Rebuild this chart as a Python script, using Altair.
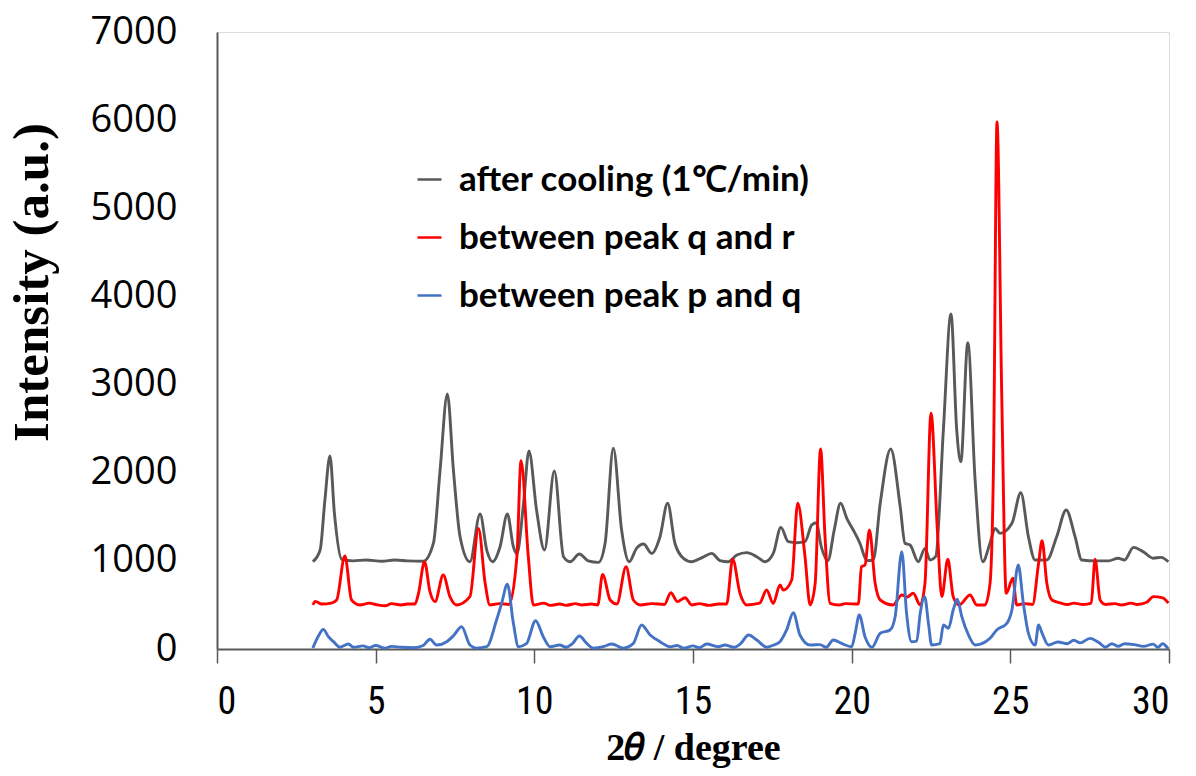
import altair as alt
import pandas as pd

# ---- data ----
series_names = ["after cooling (1\u2103/min)", "between peak q and r", "between peak p and q"]
series_colors = ["#595959", "#FF0000", "#4472C4"]

gray_x = [3.02, 3.25, 3.40, 3.56, 3.70, 3.93, 4.3, 4.7, 5.2, 5.6, 6.0, 6.5, 6.82, 7.03, 7.26, 7.45,
          7.66, 7.97, 8.29, 8.5, 8.69, 8.92, 9.15, 9.34, 9.45, 9.66, 9.83, 10.07, 10.32, 10.63, 10.92,
          11.13, 11.42, 11.7, 12.02, 12.23, 12.49, 12.75, 12.99, 13.22, 13.44, 13.7, 13.96, 14.2,
          14.43, 14.7, 14.96, 15.3, 15.59, 15.85, 16.11, 16.38, 16.69, 17.01, 17.27, 17.53, 17.77,
          18.0, 18.27, 18.53, 18.74, 18.88, 19.05, 19.25, 19.45, 19.65, 19.85, 20.05, 20.26, 20.48,
          20.68, 20.9, 21.23, 21.53, 21.68, 21.84, 22.1, 22.31, 22.47, 22.65, 22.89, 23.13, 23.31,
          23.44, 23.66, 23.89, 24.13, 24.36, 24.52, 24.68, 25.05, 25.33, 25.57, 25.78, 26.15, 26.46,
          26.76, 27.04, 27.25, 27.7, 28.1, 28.4, 28.6, 28.88, 29.2, 29.5, 29.75, 29.98]
gray_y = [990, 1123, 1690, 2190, 1540, 1018, 1000, 1010, 995, 1010, 1000, 995, 1200, 2030, 2893, 2030,
          1274, 990, 1532, 1123, 990, 1160, 1532, 1160, 1080, 1653, 2246, 1577, 1123, 2019, 1047,
          990, 1078, 1000, 983, 1200, 2277, 1350, 990, 1142, 1191, 1085, 1274, 1653,
          1200, 1029, 990, 1040, 1085, 1003, 990, 1066, 1093, 1047, 990, 1085, 1380,
          1218, 1206, 1218, 1407, 1433, 1150, 1003, 1350, 1653, 1480, 1350, 1200, 1003,
          1010, 1653, 2269, 1614, 1200, 1180, 990, 1142, 1010, 1050, 2485, 3800, 2485,
          2125, 3475, 1917, 990, 1200, 1369, 1312, 1426, 1773, 1274, 1010, 1010, 1274,
          1577, 1274, 1010, 1000, 1000, 1030, 1010, 1153, 1100, 1030, 1040, 990]

red_x = [3.02, 3.1, 3.3, 3.6, 3.77, 4.03, 4.24, 4.5, 4.8, 5.0, 5.3, 5.5, 5.8, 6.0, 6.24, 6.35, 6.54,
         6.71, 6.87, 7.13, 7.34, 7.55, 7.97, 8.24, 8.45, 8.6, 8.9, 9.2, 9.45, 9.58, 9.81, 9.97, 10.3,
         10.5, 10.8, 11.0, 11.3, 11.5, 11.8, 12.0, 12.15, 12.39, 12.6, 12.89, 13.12, 13.35, 13.7,
         14.1, 14.3, 14.51, 14.75, 14.96, 15.2, 15.5, 15.8, 16.06, 16.25, 16.48, 16.69, 17.1, 17.32,
         17.53, 17.74, 17.85, 18.11, 18.3, 18.53, 18.69, 18.85, 19.02, 19.16, 19.32, 19.6, 19.8,
         20.21, 20.31, 20.42, 20.56, 20.74, 20.9, 21.3, 21.58, 21.75, 21.94, 22.16, 22.31, 22.5,
         22.7, 22.84, 23.03, 23.2, 23.39, 23.73, 23.94, 24.2, 24.36, 24.47, 24.58, 24.73, 24.87,
         25.08, 25.2, 25.45, 25.7, 25.89, 26.0, 26.15, 26.31, 26.6, 26.8, 27.0, 27.3, 27.55, 27.67,
         27.83, 28.0, 28.3, 28.5, 28.8, 29.0, 29.3, 29.51, 29.8, 29.98]
red_y = [500, 540, 510, 520, 556, 1055, 556, 500, 520, 505, 490, 515, 500, 510, 510, 632, 990,
         650, 537, 840, 594, 500, 594, 1369, 745, 500, 515, 505, 1047, 2137, 1047, 500, 520,
         495, 510, 495, 515, 500, 510, 500, 847, 556, 510, 934, 556, 500, 515,
         505, 639, 537, 582, 500, 515, 495, 510, 510, 1018, 632, 500, 520, 669,
         518, 726, 669, 783, 1653, 1047, 500, 745, 2269, 1274, 518, 500, 515,
         510, 934, 953, 1350, 745, 556, 500, 613, 590, 632, 500, 745, 2674,
         1350, 594, 1018, 594, 500, 613, 500, 500, 745, 2107, 5979, 2862, 632,
         802, 500, 515, 505, 972, 1229, 745, 556, 520, 505, 520, 505, 520, 1018,
         556, 505, 515, 500, 520, 505, 530, 594, 580, 522]

blue_x = [3.02, 3.2, 3.35, 3.51, 3.67, 3.88, 4.14, 4.3, 4.6, 4.8, 5.0, 5.3, 5.5, 5.8, 6.2, 6.5, 6.71,
          6.92, 7.24, 7.45, 7.71, 7.97, 8.18, 8.5, 8.81, 8.97, 9.15, 9.34, 9.5, 9.75, 10.04, 10.28,
          10.5, 10.8, 11.0, 11.2, 11.42, 11.65, 11.86, 12.2, 12.44, 12.8, 13.12, 13.38, 13.65, 13.96,
          14.28, 14.5, 14.7, 15.0, 15.2, 15.43, 15.8, 16.0, 16.3, 16.5, 16.75, 17.01, 17.33, 17.5,
          17.74, 17.95, 18.16, 18.37, 18.69, 19.0, 19.2, 19.42, 19.7, 20.0, 20.11, 20.24, 20.42,
          20.64, 20.9, 21.21, 21.37, 21.58, 21.73, 21.89, 22.05, 22.16, 22.3, 22.42, 22.52, 22.78,
          22.89, 23.05, 23.2, 23.33, 23.47, 23.68, 23.89, 24.1, 24.36, 24.57, 24.89, 25.05, 25.25,
          25.41, 25.57, 25.78, 25.89, 26.0, 26.2, 26.5, 26.8, 27.0, 27.2, 27.51, 27.8, 28.0, 28.2,
          28.4, 28.6, 28.9, 29.2, 29.5, 29.65, 29.8, 29.98]
blue_y = [11, 150, 223, 140, 83, 20, 57, 20, 35, 15, 40, 10, 30, 20, 15, 40, 110,
          45, 83, 150, 253, 45, 10, 26, 329, 518, 734, 291, 26, 60, 321, 140,
          26, 45, 20, 60, 147, 64, 10, 30, 57, 10, 64, 272, 159, 83,
          26, 40, 10, 35, 15, 57, 26, 45, 20, 60, 159, 102, 20, 40,
          83, 216, 412, 159, 45, 50, 20, 102, 60, 26, 178, 386, 140,
          20, 178, 216, 367, 1104, 405, 83, 90, 405, 594, 291, 45, 60,
          272, 235, 442, 564, 367, 159, 45, 60, 121, 216, 291, 442, 953,
          518, 178, 45, 272, 180, 45, 80, 60, 100, 70, 121, 70, 20, 60,
          30, 60, 50, 30, 55, 20, 60, 0]

x_ticks = [0, 5, 10, 15, 20, 25, 30]
y_ticks = [0, 1000, 2000, 3000, 4000, 5000, 6000, 7000]

# ---- table ----
frames = []
for name, xs, ys in zip(series_names, [gray_x, red_x, blue_x], [gray_y, red_y, blue_y]):
    frames.append(pd.DataFrame({"angle": xs, "intensity": ys, "series": name}))
df = pd.concat(frames, ignore_index=True)

axis_gray = "#595959"

chart = alt.Chart(df).mark_line(
    strokeWidth=2.9, interpolate="monotone"
).encode(
    x=alt.X("angle:Q",
            scale=alt.Scale(domain=[0, 30], nice=False, zero=False),
            axis=alt.Axis(values=x_ticks, title="2\U0001D703 / degree", grid=False,
                          tickSize=14, tickColor=axis_gray, tickWidth=1.5,
                          domainColor=axis_gray, domainWidth=2,
                          labelFont="Liberation Sans Narrow, Roboto Condensed, Roboto",
                          labelFontSize=38, labelColor="#000000", labelPadding=20,
                          titleFont="Liberation Serif, DejaVu Serif", titleFontWeight="bold",
                          titleFontSize=38, titleColor="#000000",
                          titleX=476, titleY=99, titleBaseline="middle", titleAlign="center")),
    y=alt.Y("intensity:Q",
            scale=alt.Scale(domain=[0, 7000], nice=False),
            axis=alt.Axis(values=y_ticks, format="d", title="Intensity (a.u.)", grid=False,
                          ticks=False, domainColor=axis_gray, domainWidth=2,
                          labelFont="Open Sans", labelFontSize=38, labelColor="#000000",
                          labelPadding=40,
                          titleFont="Liberation Serif", titleFontWeight="bold",
                          titleFontSize=51, titleColor="#000000", titleAngle=270,
                          titleX=-185, titleY=250, titleBaseline="middle", titleAlign="center")),
    color=alt.Color("series:N",
                    scale=alt.Scale(domain=series_names, range=series_colors),
                    sort=series_names,
                    legend=alt.Legend(title=None, orient="none", legendX=195, legendY=130,
                                      symbolType="stroke", symbolSize=576, symbolStrokeWidth=2.5,
                                      labelFont="Lato", labelFontSize=35, labelFontWeight="bold",
                                      labelColor="#000000", labelOffset=12, rowPadding=22,
                                      padding=0, labelLimit=700)),
    order=alt.Order("angle:Q"),
).properties(
    width=952, height=617,
    autosize=alt.AutoSizeParams(type="none"),
    padding={"left": 217, "top": 32, "right": 27, "bottom": 127},
).configure_view(
    stroke=axis_gray, strokeWidth=2
).configure(background="white")

chart.save("out.html", embed_options={"renderer": "svg", "actions": False})
